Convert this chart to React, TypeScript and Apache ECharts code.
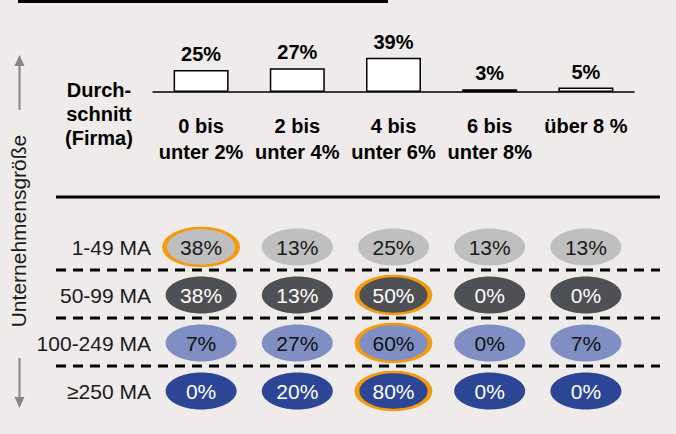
import React, { useEffect, useRef } from "react";
import * as echarts from "echarts";

const categories = ["0 bis\nunter 2%", "2 bis\nunter 4%", "4 bis\nunter 6%", "6 bis\nunter 8%", "über 8 %"];
const averageValues = [25, 27, 39, 3, 5];
const sizeClasses = ["1-49 MA", "50-99 MA", "100-249 MA", "≥250 MA"];
const row1to49 = [38, 13, 25, 13, 13];
const row50to99 = [38, 13, 50, 0, 0];
const row100to249 = [7, 27, 60, 0, 7];
const row250plus = [0, 20, 80, 0, 0];
const highlightedColumn = [0, 2, 2, 2];

const rowValues = [row1to49, row50to99, row100to249, row250plus];
const rowFill = ["#BFBFBF", "#4F5053", "#7F8FC3", "#2C4595"];
const rowText = ["#1a1a1a", "#ffffff", "#111111", "#ffffff"];
const ORANGE = "#F59A0C";
const FONT = "Liberation Sans";
const ELLIPSE =
  "path://M50,0 C77.6,0 100,22.4 100,50 C100,77.6 77.6,100 50,100 C22.4,100 0,77.6 0,50 C0,22.4 22.4,0 50,0 Z";

export default function App() {
  const ref = useRef<HTMLDivElement>(null);

  useEffect(() => {
    if (!ref.current) return;
    const chart = echarts.init(ref.current, undefined, { renderer: "svg" });

    const scatterData: any[] = [];
    rowValues.forEach((vals, r) => {
      vals.forEach((v, c) => {
        const hl = highlightedColumn[r] === c;
        scatterData.push({
          value: [c, r, v],
          symbolSize: hl ? [73, 38] : [71, 37],
          itemStyle: {
            color: rowFill[r],
            opacity: 1,
            borderColor: hl ? ORANGE : "transparent",
            borderWidth: hl ? 3.5 : 0,
          },
          label: { color: rowText[r] },
        });
      });
    });

    const gray = "#858585";

    chart.setOption({
      animation: false,
      backgroundColor: "#EEEBEA",
      textStyle: { fontFamily: FONT },
      grid: [
        { left: 153, width: 481, top: 4, height: 88 },
        { left: 153, width: 481, top: 223, height: 192 },
      ],
      xAxis: [
        {
          type: "category",
          gridIndex: 0,
          data: categories,
          axisLine: { show: true, lineStyle: { color: "#000", width: 1.5 } },
          axisTick: { show: false },
          axisLabel: {
            interval: 0,
            margin: 21,
            fontSize: 20,
            fontWeight: "bold",
            color: "#000",
            lineHeight: 26,
            fontFamily: FONT,
          },
        },
        {
          type: "category",
          gridIndex: 1,
          data: categories,
          show: false,
        },
      ],
      yAxis: [
        { type: "value", gridIndex: 0, min: 0, max: 100, show: false },
        {
          type: "category",
          gridIndex: 1,
          data: sizeClasses,
          inverse: true,
          axisLine: { show: false },
          axisTick: { show: false },
          splitLine: { show: false },
          axisLabel: {
            margin: 2,
            fontSize: 21,
            color: "#1a1a1a",
            fontFamily: FONT,
          },
        },
      ],
      series: [
        {
          type: "bar",
          xAxisIndex: 0,
          yAxisIndex: 0,
          data: averageValues,
          barWidth: 55,
          itemStyle: { color: "#ffffff", borderColor: "#000", borderWidth: 1.5 },
          label: {
            show: true,
            position: "top",
            distance: 6,
            fontSize: 20,
            fontWeight: "bold",
            color: "#000",
            fontFamily: FONT,
            formatter: "{c}%",
          },
        },
        {
          type: "scatter",
          xAxisIndex: 1,
          yAxisIndex: 1,
          symbol: ELLIPSE,
          data: scatterData,
          itemStyle: { opacity: 1 },
          label: {
            show: true,
            position: "inside",
            fontSize: 21,
            fontFamily: FONT,
            formatter: (p: any) => p.value[2] + "%",
          },
        },
      ],
      graphic: [
        { type: "line", shape: { x1: 18, y1: 1.5, x2: 388, y2: 1.5 }, style: { stroke: "#000", lineWidth: 3 } },
        { type: "line", shape: { x1: 56, y1: 197, x2: 660, y2: 197 }, style: { stroke: "#000", lineWidth: 3 } },
        { type: "line", shape: { x1: 56, y1: 270, x2: 660, y2: 270 }, style: { stroke: "#000", lineWidth: 3, lineDash: [10, 7] } },
        { type: "line", shape: { x1: 56, y1: 318, x2: 660, y2: 318 }, style: { stroke: "#000", lineWidth: 3, lineDash: [10, 7] } },
        { type: "line", shape: { x1: 56, y1: 366, x2: 660, y2: 366 }, style: { stroke: "#000", lineWidth: 3, lineDash: [10, 7] } },
        {
          type: "text",
          x: 99,
          y: 78,
          style: {
            text: "Durch-\nschnitt\n(Firma)",
            fontSize: 20,
            fontWeight: "bold",
            fill: "#000",
            align: "center",
            verticalAlign: "top",
            lineHeight: 24,
            fontFamily: FONT,
          },
        },
        {
          type: "text",
          x: 18,
          y: 231,
          rotation: Math.PI / 2,
          style: {
            text: "Unternehmensgröße",
            fontSize: 21,
            fill: "#1a1a1a",
            align: "center",
            verticalAlign: "middle",
            fontFamily: FONT,
          },
        },
        { type: "line", shape: { x1: 19.5, y1: 64, x2: 19.5, y2: 110 }, style: { stroke: gray, lineWidth: 2 } },
        { type: "polygon", shape: { points: [[19.5, 55], [14.5, 66], [24.5, 66]] }, style: { fill: gray } },
        { type: "line", shape: { x1: 19.5, y1: 358, x2: 19.5, y2: 399 }, style: { stroke: gray, lineWidth: 2 } },
        { type: "polygon", shape: { points: [[19.5, 408], [14.5, 397], [24.5, 397]] }, style: { fill: gray } },
      ],
    });

    return () => chart.dispose();
  }, []);

  return (
    <div
      ref={ref}
      style={{ position: "fixed", left: 0, top: 0, width: 676, height: 434 }}
    />
  );
}
